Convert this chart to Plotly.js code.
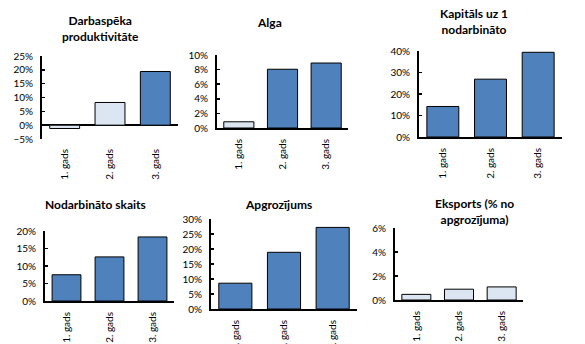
<!DOCTYPE html>
<html>
<head>
<meta charset="utf-8">
<script src="https://cdn.plot.ly/plotly-3.0.1.min.js"></script>
<style>html,body{margin:0;padding:0;background:#fff;}#chart{width:585px;height:344px;}</style>
</head>
<body>
<div id="chart"></div>
<script>
// ---- data ----
var categories = ['1. gads', '2. gads', '3. gads'];
var titles = ['Darbaspēka<br>produktivitāte', 'Alga', 'Kapitāls uz 1<br>nodarbināto',
              'Nodarbināto skaits', 'Apgrozījums', 'Eksports (% no<br>apgrozījuma)'];
var darbaspeka  = [-0.012, 0.082, 0.194];
var alga        = [0.0085, 0.0805, 0.089];
var kapitals    = [0.142, 0.269, 0.394];
var nodarbinato = [0.075, 0.126, 0.183];
var apgrozijums = [0.086, 0.189, 0.272];
var eksports    = [0.0047, 0.009, 0.0109];

// ---- styles ----
var DARK = '#4F81BD', LIGHT = '#DCE6F2';
var colorsP = [
  [LIGHT, LIGHT, DARK],
  [LIGHT, DARK, DARK],
  [DARK, DARK, DARK],
  [DARK, DARK, DARK],
  [DARK, DARK, DARK],
  [LIGHT, LIGHT, LIGHT]
];
var series = [darbaspeka, alga, kapitals, nodarbinato, apgrozijums, eksports];
var W = 585, H = 344;
// pixel boxes: [x0, x1, yTop, yBottom]
var boxes = [
  [42, 178, 56, 139],
  [217, 348, 55, 128],
  [419, 562, 51, 137],
  [45, 174, 231, 301],
  [211, 357, 219, 309],
  [395, 523, 228, 300]
];
var yRanges = [[-0.05, 0.25], [0, 0.10], [0, 0.40], [0, 0.20], [0, 0.30], [0, 0.06]];
var dticks = [0.05, 0.02, 0.1, 0.05, 0.05, 0.02];
var bargaps = [0.34, 0.31, 0.33, 0.33, 0.32, 0.32];
var titlePos = [[100, 28], [269, 22], [474, 21], [95, 204], [278, 205], [474, 211.5]];

var FONT = 'Lato, "Open Sans", sans-serif';
var traces = [];
var layout = {
  width: W, height: H,
  margin: {l: 0, r: 0, t: 0, b: 0},
  paper_bgcolor: '#fff', plot_bgcolor: '#fff',
  showlegend: false,
  font: {family: FONT, color: '#000', size: 10},
  annotations: []
};

for (var i = 0; i < 6; i++) {
  var n = i + 1;
  var xa = 'x' + (n === 1 ? '' : n), ya = 'y' + (n === 1 ? '' : n);
  traces.push({
    type: 'bar', x: categories, y: series[i], xaxis: xa, yaxis: ya,
    marker: {color: colorsP[i], line: {color: '#000', width: 1}},
    width: [1 - bargaps[i], 1 - bargaps[i], 1 - bargaps[i]],
    hoverinfo: 'skip'
  });
  var b = boxes[i];
  var xk = 'xaxis' + (n === 1 ? '' : n), yk = 'yaxis' + (n === 1 ? '' : n);
  var hasNeg = yRanges[i][0] < 0;
  layout[xk] = {
    domain: [b[0] / W, b[1] / W],
    anchor: ya,
    type: 'category',
    showgrid: false, zeroline: false,
    showline: !hasNeg, linecolor: '#000', linewidth: 2,
    ticks: 'outside', ticklen: 5, tickcolor: 'rgba(0,0,0,0)',
    tickangle: -90,
    tickfont: {family: FONT, size: 10, color: '#000'},
    fixedrange: true
  };
  layout[yk] = {
    domain: [1 - b[3] / H, 1 - b[2] / H],
    anchor: xa,
    range: yRanges[i],
    dtick: dticks[i], tick0: 0,
    tickformat: '.0%',
    showgrid: false,
    zeroline: hasNeg, zerolinecolor: '#000', zerolinewidth: 2,
    showline: true, linecolor: '#000', linewidth: 2,
    ticks: 'inside', ticklen: 3, tickwidth: 1.5, tickcolor: '#000',
    ticklabelstandoff: 5,
    tickfont: {family: FONT, size: 10, color: '#000'},
    fixedrange: true
  };
  layout.annotations.push({
    text: '<b>' + titles[i] + '</b>',
    xref: 'paper', yref: 'paper',
    x: titlePos[i][0] / W, y: 1 - titlePos[i][1] / H,
    xanchor: 'center', yanchor: 'middle',
    showarrow: false, align: 'center',
    font: {family: FONT, size: 12, color: '#000'}
  });
}

Plotly.newPlot('chart', traces, layout, {staticPlot: true, displayModeBar: false});
</script>
</body>
</html>
